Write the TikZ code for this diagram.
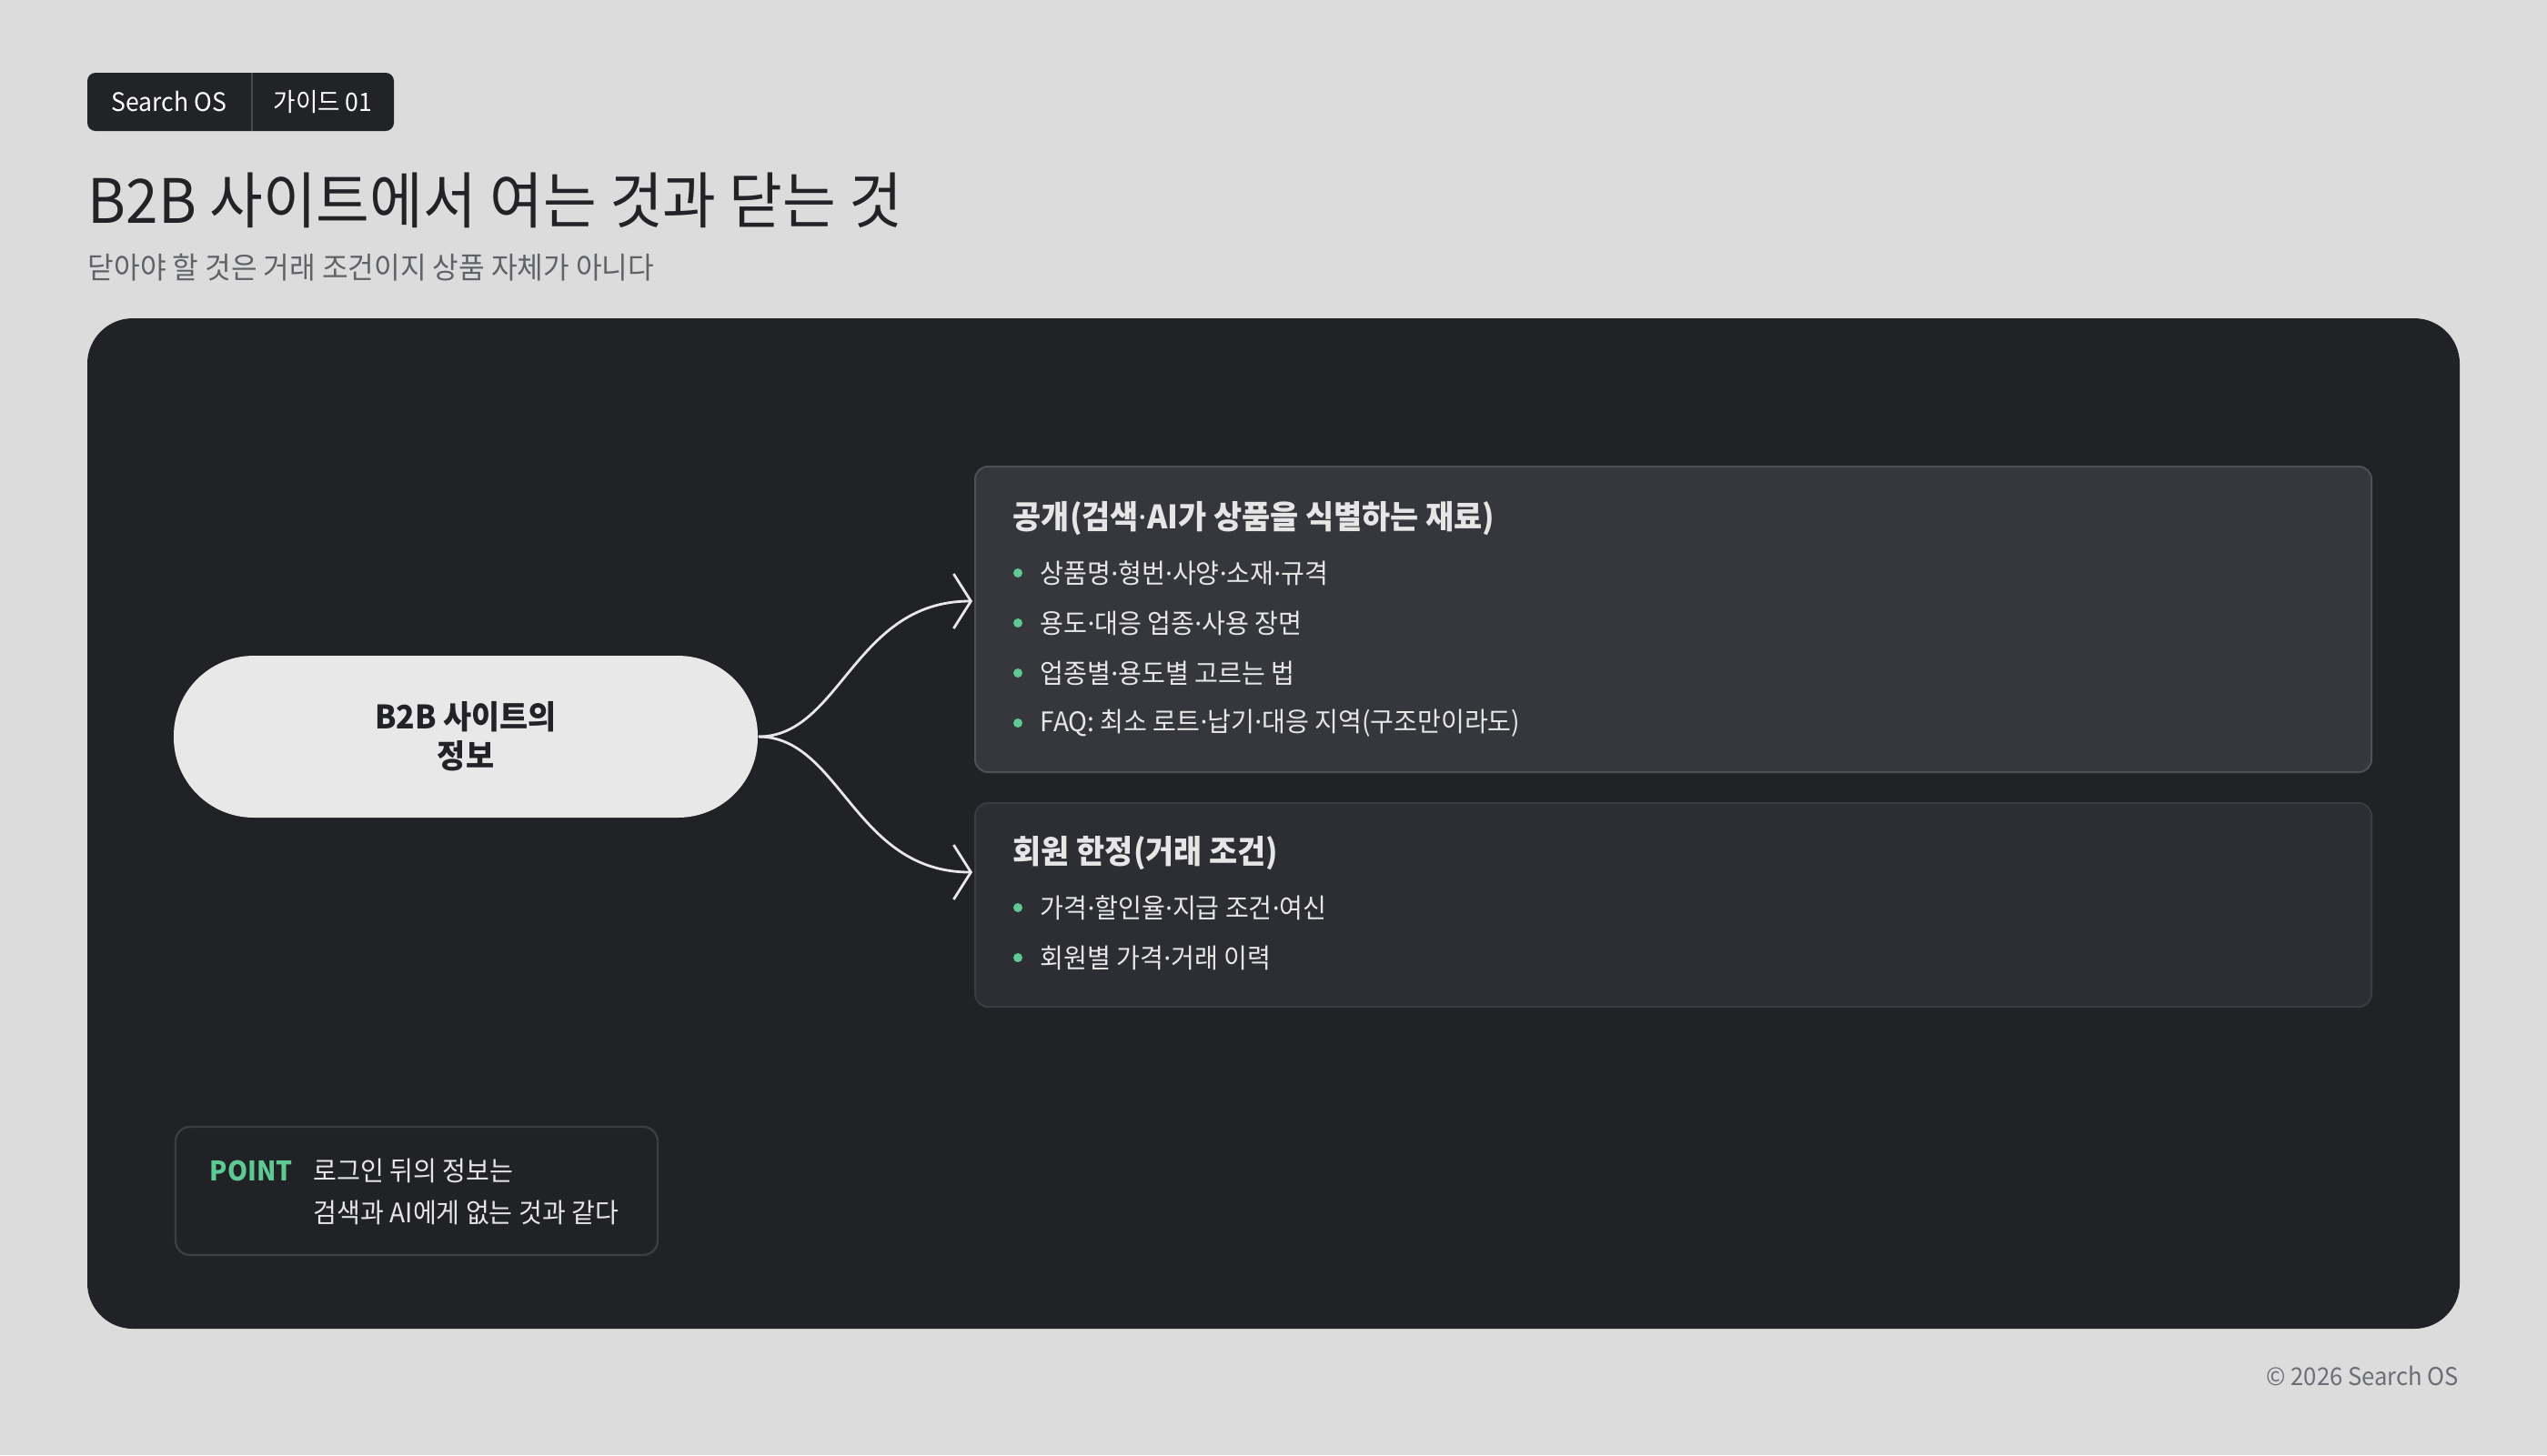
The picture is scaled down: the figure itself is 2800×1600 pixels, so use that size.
\documentclass[tikz,border=0pt]{standalone}
\usepackage{fontspec}
\setmainfont[FakeStretch=0.95]{Noto Sans CJK KR}
\newfontfamily\dotfont{Noto Sans}
\newcommand{\kdot}{{\dotfont ·}}
\usetikzlibrary{arrows.meta,calc}
\definecolor{bgc}{HTML}{DCDCDC}
\definecolor{badgec}{HTML}{222327}
\definecolor{divc}{HTML}{4B4C51}
\definecolor{titc}{HTML}{222327}
\definecolor{subc}{HTML}{5F6368}
\definecolor{panelc}{HTML}{212226}
\definecolor{pillc}{HTML}{E8E8E8}
\definecolor{boxAc}{HTML}{35373C}
\definecolor{boxAl}{HTML}{4E5056}
\definecolor{boxBc}{HTML}{2C2E33}
\definecolor{boxBl}{HTML}{3A3C41}
\definecolor{lightc}{HTML}{E6E6E6}
\definecolor{greenc}{HTML}{5EC992}
\definecolor{ptline}{HTML}{3C3E43}
\definecolor{footc}{HTML}{6B6E75}
\begin{document}
\begin{tikzpicture}[x=0.25pt,y=-0.25pt,
  badgetxt/.style={inner sep=0pt, text=white, font=\fontsize{7pt}{8pt}\selectfont},
  pill/.style={fill=pillc, rounded corners=22pt, minimum width=160.5pt, minimum height=44.5pt, inner sep=0pt, align=center, text=titc, font=\fontsize{8.9pt}{10.75pt}\selectfont\bfseries},
  boxA/.style={fill=boxAc, draw=boxAl, line width=0.5pt, rounded corners=3.5pt, minimum width=383.75pt, minimum height=84pt, inner sep=0pt},
  boxB/.style={fill=boxBc, draw=boxBl, line width=0.5pt, rounded corners=3.5pt, minimum width=383.75pt, minimum height=56pt, inner sep=0pt},
  boxtitle/.style={anchor=west, inner sep=0pt, text=lightc, font=\fontsize{8.9pt}{10pt}\selectfont\bfseries},
  item/.style={anchor=west, inner sep=0pt, text=lightc, font=\fontsize{7.4pt}{9pt}\selectfont},
  dot/.style={circle, fill=greenc, minimum size=2.5pt, inner sep=0pt},
  conn/.style={draw=pillc, line width=0.7pt, -{Straight Barb[length=4.75pt,width=15pt]}},
  pointbox/.style={draw=ptline, line width=0.6pt, rounded corners=4pt, minimum width=132.5pt, minimum height=35.25pt, inner sep=0pt},
]
\useasboundingbox (0,0) rectangle (2800,1600);
\fill[bgc] (0,0) rectangle (2800,1600);
% badge
\fill[badgec, rounded corners=2.25pt] (96,80) rectangle (433,144);
\draw[divc, line width=0.5pt] (277,80) -- (277,144);
\node[badgetxt] (b1) at (186,112) {Search OS};
\node[badgetxt] (b2) at (355,112) {가이드 01};
% titles
\node[anchor=base west, inner sep=0pt, text=titc, font=\fontsize{16.8pt}{18pt}\selectfont] (title) at (96,245) {B2B 사이트에서 여는 것과 닫는 것};
\node[anchor=west, inner sep=0pt, text=subc, font=\fontsize{8.2pt}{10pt}\selectfont] (sub) at (96,294) {닫아야 할 것은 거래 조건이지 상품 자체가 아니다};
% panel
\fill[panelc, rounded corners=12.5pt] (96,350) rectangle (2704,1461);
% source
\node[pill] (src) at (512,810) {B2B 사이트의\\정보};
% box A
\node[boxA] (pub) at (1839.5,681) {};
\node[boxtitle] (pubt) at (1113,570) {공개(검색\kdot AI가 상품을 식별하는 재료)};
\node[dot] (pd1) at (1119,630) {};
\node[item] (pi1) at (1143,630) {상품명\kdot 형번\kdot 사양\kdot 소재\kdot 규격};
\node[dot] (pd2) at (1119,685) {};
\node[item] (pi2) at (1143,685) {용도\kdot 대응 업종\kdot 사용 장면};
\node[dot] (pd3) at (1119,740) {};
\node[item] (pi3) at (1143,740) {업종별\kdot 용도별 고르는 법};
\node[dot] (pd4) at (1119,795) {};
\node[item] (pi4) at (1143,795) {FAQ: 최소 로트\kdot 납기\kdot 대응 지역(구조만이라도)};
% box B
\node[boxB] (mem) at (1839.5,995) {};
\node[boxtitle] (memt) at (1113,938) {회원 한정(거래 조건)};
\node[dot] (md1) at (1119,998) {};
\node[item] (mi1) at (1143,998) {가격\kdot 할인율\kdot 지급 조건\kdot 여신};
\node[dot] (md2) at (1119,1053) {};
\node[item] (mi2) at (1143,1053) {회원별 가격\kdot 거래 이력};
% connectors
\coordinate (t1) at ($(pub.west)+(-2,-20)$);
\coordinate (t2) at ($(mem.west)+(-2,-36)$);
\draw[conn] (src.east) .. controls ($(src.east)+(90,0)$) and ($(t1)+(-130,0)$) .. (t1);
\draw[conn] (src.east) .. controls ($(src.east)+(90,0)$) and ($(t2)+(-130,0)$) .. (t2);
% point
\node[pointbox] (pt) at (458,1309.5) {};
\node[anchor=west, inner sep=0pt, text=greenc, font=\fontsize{7.4pt}{9pt}\selectfont\bfseries] (ptl) at (230,1287) {POINT};
\node[item] (pt1) at (344,1287) {로그인 뒤의 정보는};
\node[item] (pt2) at (344,1333) {검색과 AI에게 없는 것과 같다};
% footer
\node[anchor=east, inner sep=0pt, text=footc, font=\fontsize{6.75pt}{8pt}\selectfont] (foot) at (2704,1513) {© 2026 Search OS};
\end{tikzpicture}
\end{document}
